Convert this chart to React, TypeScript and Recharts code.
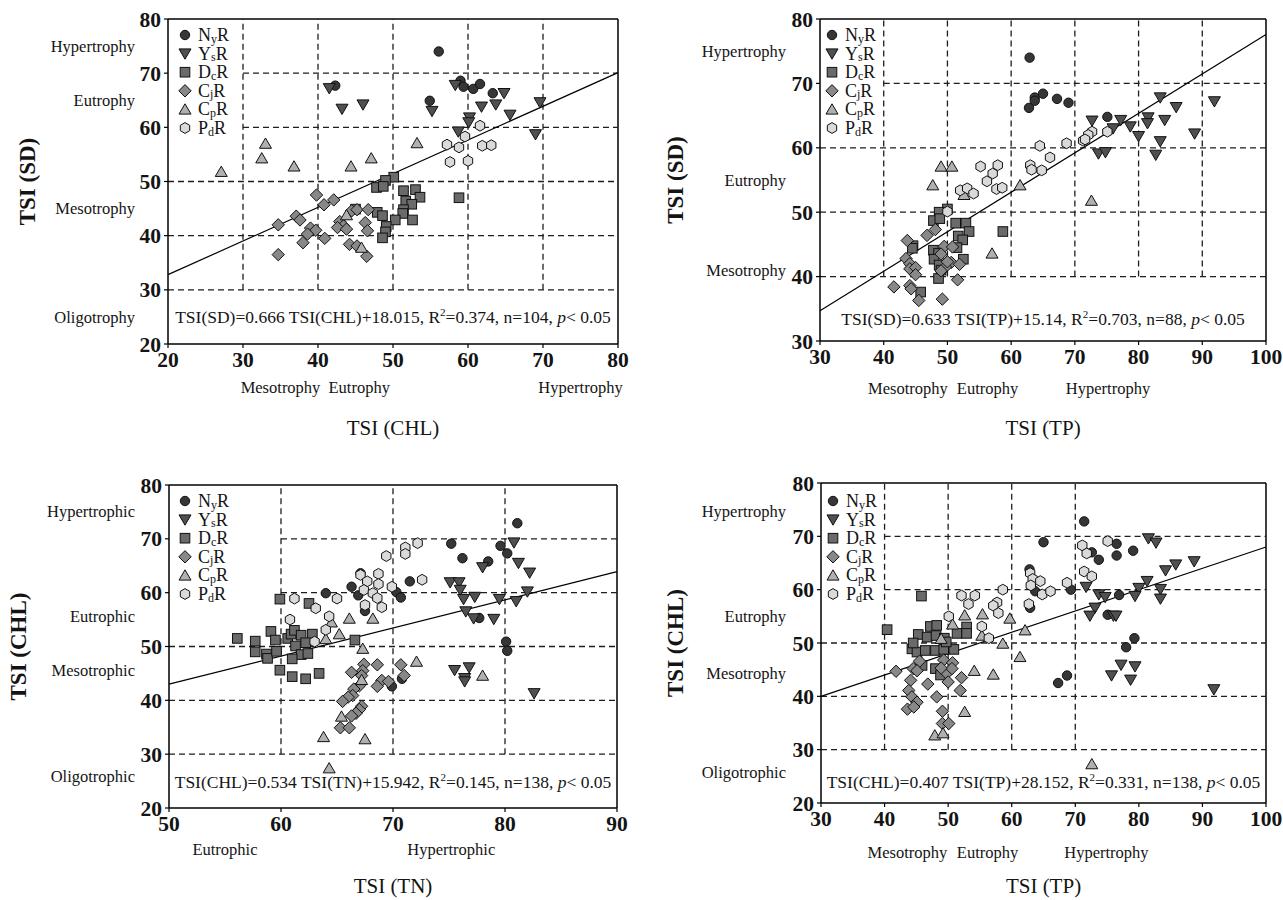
import React from "react";
import { ScatterChart, Scatter, XAxis, YAxis, ReferenceLine, Legend } from "recharts";

const FONT = "'Liberation Serif', 'DejaVu Serif', serif";
const INK = "#141414";

type Pt = [number, number];

// ---- Panel A: TSI(SD) vs TSI(CHL)
const sdChlNyR: Pt[] = [[56.1, 74.0], [42.3, 67.7], [54.9, 64.9], [59.0, 68.6], [59.4, 67.5], [60.7, 67.1], [61.6, 68.0], [63.3, 66.3]];
const sdChlYsR: Pt[] = [[41.5, 67.2], [43.2, 63.4], [46.0, 64.2], [55.2, 63.0], [58.3, 67.8], [58.7, 59.2], [60.2, 61.8], [60.1, 60.9], [61.8, 63.8], [63.7, 64.2], [64.8, 66.3], [65.6, 62.3], [69.0, 58.7], [69.6, 64.6]];
const sdChlDcR: Pt[] = [[50.1, 50.8], [49.0, 50.2], [47.8, 48.9], [48.7, 49.1], [51.4, 48.3], [53.0, 48.5], [53.6, 47.1], [58.8, 47.0], [51.7, 46.4], [52.5, 45.8], [51.4, 44.8], [51.3, 44.1], [47.9, 44.3], [48.6, 43.7], [50.3, 42.9], [52.6, 42.9], [49.1, 41.7], [49.0, 40.7], [48.6, 39.6], [45.0, 44.9]];
const sdChlCjR: Pt[] = [[39.8, 47.5], [40.8, 45.7], [42.1, 46.6], [37.1, 43.6], [37.6, 42.9], [34.7, 42.0], [39.0, 41.4], [39.7, 41.0], [38.6, 40.3], [38.0, 38.7], [34.7, 36.5], [40.9, 39.5], [42.9, 42.6], [43.4, 41.8], [42.6, 41.5], [44.5, 44.6], [45.2, 44.8], [46.7, 44.8], [46.3, 42.4], [46.6, 40.9], [44.2, 38.4], [45.2, 38.1], [46.5, 36.2], [43.8, 41.2]];
const sdChlCpR: Pt[] = [[27.1, 51.8], [32.5, 54.3], [33.0, 57.0], [36.8, 52.8], [44.4, 52.8], [47.1, 54.3], [53.2, 57.1], [43.8, 43.8], [45.8, 37.8]];
const sdChlPdR: Pt[] = [[61.6, 60.3], [59.6, 58.3], [57.2, 56.8], [58.8, 56.3], [61.9, 56.6], [63.1, 56.7], [57.6, 53.6], [60.0, 53.8]];

// ---- Panel B: TSI(SD) vs TSI(TP)
const sdTpNyR: Pt[] = [[62.9, 74.0], [63.7, 67.8], [63.7, 67.3], [62.8, 66.2], [65.0, 68.4], [67.2, 67.6], [69.0, 67.0], [75.1, 64.8]];
const sdTpYsR: Pt[] = [[72.7, 64.2], [76.0, 63.0], [77.2, 64.3], [78.7, 63.3], [80.0, 61.8], [81.5, 64.7], [81.4, 63.8], [83.4, 67.8], [84.1, 64.3], [85.9, 66.3], [83.4, 61.0], [82.7, 58.9], [88.8, 62.2], [91.9, 67.2], [73.7, 59.1], [74.8, 59.3]];
const sdTpDcR: Pt[] = [[50.0, 50.5], [48.7, 50.0], [47.8, 48.7], [48.8, 49.0], [51.3, 48.3], [52.9, 48.3], [53.4, 47.0], [58.7, 47.0], [51.7, 46.3], [52.4, 45.7], [51.5, 44.5], [44.6, 44.8], [44.5, 44.4], [47.8, 44.1], [48.6, 43.6], [47.9, 42.7], [52.5, 42.7], [48.7, 41.8], [49.0, 41.0], [48.6, 39.7], [45.8, 37.6]];
const sdTpCjR: Pt[] = [[46.8, 46.4], [48.1, 47.3], [43.7, 45.6], [43.5, 42.8], [44.1, 42.0], [44.1, 41.2], [45.0, 41.4], [45.0, 40.3], [41.6, 38.4], [44.1, 38.6], [44.3, 38.1], [45.5, 36.3], [49.2, 36.5], [49.5, 44.7], [49.0, 43.5], [50.6, 42.2], [49.7, 41.5], [49.0, 40.9], [50.0, 42.3], [51.9, 41.9], [51.6, 39.5], [50.8, 44.6]];
const sdTpCpR: Pt[] = [[49.0, 57.1], [50.7, 57.1], [47.7, 54.2], [61.4, 54.2], [52.6, 52.7], [72.6, 51.8], [57.0, 43.6]];
const sdTpPdR: Pt[] = [[75.1, 62.5], [72.7, 62.5], [72.1, 62.0], [71.3, 61.1], [71.6, 61.3], [68.7, 60.7], [66.1, 58.5], [64.5, 60.3], [63.0, 57.3], [63.2, 56.6], [64.8, 56.5], [55.2, 57.1], [57.9, 57.3], [57.1, 56.0], [56.2, 54.8], [57.7, 53.6], [58.6, 53.8], [52.0, 53.4], [53.1, 53.7], [54.1, 52.9], [50.0, 50.1]];

// ---- Panel C: TSI(CHL) vs TSI(TN)
const chlTnNyR: Pt[] = [[81.1, 72.9], [75.2, 69.1], [76.2, 66.4], [78.5, 65.8], [79.6, 68.7], [80.2, 67.3], [80.1, 50.9], [80.2, 49.2], [67.1, 63.6], [66.3, 61.1], [64.0, 59.9], [66.9, 59.5], [67.5, 56.6], [71.5, 62.1], [70.3, 60.1], [70.7, 59.1], [77.7, 55.3], [69.9, 42.6], [70.8, 44.0]];
const chlTnYsR: Pt[] = [[80.8, 69.3], [81.2, 65.5], [82.2, 63.7], [78.0, 64.7], [75.1, 61.9], [75.9, 61.9], [76.0, 60.5], [76.3, 58.8], [77.3, 59.2], [76.5, 56.5], [77.2, 55.2], [79.0, 55.1], [79.5, 58.8], [81.0, 58.4], [82.0, 60.2], [75.5, 45.6], [76.4, 44.1], [76.8, 46.1], [76.4, 43.5], [82.6, 41.3]];
const chlTnDcR: Pt[] = [[56.1, 51.5], [57.7, 51.0], [57.7, 49.0], [58.7, 48.6], [58.8, 47.8], [59.1, 52.8], [59.5, 51.2], [59.6, 49.1], [59.9, 45.6], [60.6, 51.5], [60.9, 52.3], [61.2, 53.0], [61.8, 52.1], [62.8, 52.3], [61.3, 50.1], [62.2, 50.7], [61.8, 48.5], [62.4, 48.7], [61.0, 47.7], [61.0, 44.4], [62.2, 44.0], [63.4, 45.0], [66.6, 51.2], [59.9, 58.8], [62.5, 58.0]];
const chlTnCjR: Pt[] = [[67.4, 46.7], [68.6, 46.6], [67.3, 45.5], [66.3, 45.2], [67.2, 44.6], [70.7, 46.6], [71.0, 44.6], [69.0, 43.7], [69.6, 43.5], [68.6, 42.6], [67.0, 42.7], [66.5, 42.1], [66.4, 40.9], [66.0, 40.6], [65.5, 39.8], [67.2, 38.9], [67.0, 38.3], [66.7, 37.6], [66.3, 37.1], [65.3, 34.9], [66.1, 34.9]];
const chlTnCpR: Pt[] = [[66.1, 55.2], [68.2, 55.2], [65.2, 52.3], [64.5, 54.5], [64.0, 51.4], [67.3, 49.6], [72.1, 47.2], [67.2, 43.8], [65.4, 37.0], [63.8, 33.2], [67.5, 32.8], [64.3, 27.4], [78.0, 44.6]];
const chlTnPdR: Pt[] = [[61.2, 58.9], [63.1, 57.1], [65.0, 58.9], [60.8, 55.0], [64.3, 55.6], [64.0, 53.1], [63.0, 50.9], [69.4, 66.8], [71.1, 68.4], [71.1, 67.2], [72.2, 69.2], [72.6, 62.4], [69.9, 61.1], [67.1, 63.3], [68.7, 63.5], [68.7, 61.6], [67.7, 62.1], [67.4, 60.5], [68.2, 59.9], [68.6, 59.0], [69.0, 57.3], [67.5, 57.7]];

// ---- Panel D: TSI(CHL) vs TSI(TP)
const chlTpNyR: Pt[] = [[71.4, 72.8], [65.0, 68.9], [76.5, 68.6], [79.1, 67.3], [76.5, 66.4], [73.7, 65.6], [72.6, 67.0], [62.8, 63.8], [63.7, 59.7], [62.9, 56.6], [69.3, 60.0], [76.9, 59.0], [75.1, 55.3], [79.3, 50.9], [78.0, 49.2], [68.7, 43.9], [67.3, 42.5]];
const chlTpYsR: Pt[] = [[81.5, 69.6], [82.7, 68.8], [88.7, 65.3], [85.8, 64.7], [84.2, 63.6], [81.3, 61.6], [83.4, 60.1], [83.4, 58.3], [80.0, 60.3], [79.4, 58.8], [73.7, 59.1], [74.7, 58.6], [71.7, 60.5], [73.1, 56.6], [72.3, 55.1], [76.0, 55.1], [76.4, 55.1], [77.2, 45.9], [79.4, 45.6], [75.7, 43.9], [78.7, 43.1], [91.8, 41.3]];
const chlTpDcR: Pt[] = [[40.4, 52.5], [45.8, 58.8], [45.3, 51.6], [47.2, 53.1], [48.2, 53.3], [46.7, 51.1], [48.1, 51.4], [49.4, 50.9], [51.4, 51.8], [52.9, 53.0], [52.9, 51.8], [44.3, 48.9], [45.1, 48.3], [46.4, 48.6], [48.0, 48.6], [49.3, 48.8], [50.9, 48.8], [45.9, 45.8], [48.0, 45.2], [48.8, 44.0], [44.5, 50.0], [49.7, 50.2]];
const chlTpCjR: Pt[] = [[41.8, 44.7], [44.5, 45.2], [45.5, 46.6], [45.1, 44.8], [44.1, 43.0], [43.8, 41.1], [44.3, 39.9], [45.1, 38.9], [43.6, 37.6], [44.6, 38.0], [46.8, 42.3], [48.2, 39.9], [49.1, 37.2], [49.1, 34.9], [50.1, 34.9], [49.3, 46.8], [50.7, 46.3], [49.8, 44.3], [50.6, 45.2], [50.0, 42.7], [52.1, 43.5], [51.9, 41.1], [48.9, 45.3]];
const chlTpCpR: Pt[] = [[52.6, 55.2], [55.4, 55.4], [59.7, 54.6], [50.7, 53.5], [48.9, 50.8], [55.3, 51.4], [62.1, 52.4], [58.6, 49.9], [61.3, 47.4], [54.1, 44.8], [57.1, 44.1], [52.6, 37.1], [47.9, 32.7], [49.2, 33.1], [72.6, 27.3]];
const chlTpPdR: Pt[] = [[75.1, 69.1], [71.1, 68.3], [71.8, 66.8], [71.4, 63.4], [72.6, 62.5], [62.9, 63.1], [63.3, 62.0], [64.5, 61.6], [63.0, 60.8], [64.8, 59.1], [66.1, 59.7], [68.7, 61.3], [62.7, 57.3], [58.6, 60.0], [52.1, 58.9], [54.2, 58.9], [53.2, 57.3], [57.7, 57.6], [57.1, 57.0], [57.9, 55.6], [50.1, 55.0], [55.3, 53.1], [56.4, 50.9]];

// fitted lines as drawn (endpoints at the axis limits)
const sdChlFit: Pt[] = [[20, 32.8], [80, 70.1]];
const sdTpFit: Pt[] = [[30, 34.7], [100, 77.6]];
const chlTnFit: Pt[] = [[50, 43.0], [90, 63.9]];
const chlTpFit: Pt[] = [[30, 40.0], [100, 68.0]];

// series legend
const seriesMain = ["N", "Y", "D", "C", "C", "P"];
const seriesSub = ["y", "s", "c", "j", "p", "d"];
const seriesKind = ["circle", "down", "square", "diamond", "up", "hex"];
const seriesFill = ["#363636", "#505050", "#6a6a6a", "#888888", "#b0b0b0", "#dadada"];

// trophic class labels: [value, text]
const sdChlYLabels: [number, string][] = [[75, "Hypertrophy"], [65, "Eutrophy"], [45, "Mesotrophy"], [25, "Oligotrophy"]];
const sdChlXLabels: [number, string][] = [[35, "Mesotrophy"], [45.5, "Eutrophy"], [75, "Hypertrophy"]];
const sdTpYLabels: [number, string][] = [[75, "Hypertrophy"], [55, "Eutrophy"], [41, "Mesotrophy"]];
const sdTpXLabels: [number, string][] = [[43.8, "Mesotrophy"], [56.3, "Eutrophy"], [75.2, "Hypertrophy"]];
const chlTnYLabels: [number, string][] = [[75.2, "Hypertrophic"], [55.6, "Eutrophic"], [45.7, "Mesotrophic"], [25.9, "Oligotrophic"]];
const chlTnXLabels: [number, string][] = [[55, "Eutrophic"], [75.2, "Hypertrophic"]];
const chlTpYLabels: [number, string][] = [[74.8, "Hypertrophy"], [55.1, "Eutrophy"], [44.4, "Mesotrophy"], [25.8, "Oligotrophic"]];
const chlTpXLabels: [number, string][] = [[43.6, "Mesotrophy"], [56.2, "Eutrophy"], [74.9, "Hypertrophy"]];

// equations: [before superscript, after superscript]
const sdChlEq = ["TSI(SD)=0.666 TSI(CHL)+18.015, R", "=0.374, n=104, "];
const sdTpEq = ["TSI(SD)=0.633 TSI(TP)+15.14, R", "=0.703, n=88, "];
const chlTnEq = ["TSI(CHL)=0.534 TSI(TN)+15.942, R", "=0.145, n=138, "];
const chlTpEq = ["TSI(CHL)=0.407 TSI(TP)+28.152, R", "=0.331, n=138, "];

function Marker({ kind, cx, cy, fill }: { kind: string; cx: number; cy: number; fill: string }) {
  const common = { fill, stroke: "#111", strokeWidth: 1 };
  if (kind === "circle") return <circle cx={cx} cy={cy} r={4.7} {...common} />;
  if (kind === "square") return <rect x={cx - 4.8} y={cy - 4.8} width={9.6} height={9.6} {...common} />;
  if (kind === "down") return <polygon points={`${cx - 6},${cy - 4.7} ${cx + 6},${cy - 4.7} ${cx},${cy + 5.6}`} {...common} />;
  if (kind === "up") return <polygon points={`${cx},${cy - 5.6} ${cx + 6},${cy + 4.7} ${cx - 6},${cy + 4.7}`} {...common} />;
  if (kind === "diamond") return <polygon points={`${cx},${cy - 6.2} ${cx + 6.2},${cy} ${cx},${cy + 6.2} ${cx - 6.2},${cy}`} {...common} />;
  const pts = [0, 1, 2, 3, 4, 5]
    .map((i) => {
      const a = (Math.PI / 3) * i - Math.PI / 2;
      return `${cx + 5.4 * Math.cos(a)},${cy + 5.4 * Math.sin(a)}`;
    })
    .join(" ");
  return <polygon points={pts} {...common} />;
}

function LegendBox() {
  return (
    <svg width={84} height={126} style={{ display: "block", overflow: "visible" }}>
      {seriesMain.map((m, i) => {
        const cy = 10 + i * 18.6;
        return (
          <g key={i}>
            <Marker kind={seriesKind[i]} cx={8} cy={cy} fill={seriesFill[i]} />
            <text x={21} y={cy + 6} fontSize={18} fontFamily={FONT} fill={INK}>
              {m}
              <tspan fontSize={12} dy={1.5}>{seriesSub[i]}</tspan>
              <tspan dy={-1.5}>R</tspan>
            </text>
          </g>
        );
      })}
    </svg>
  );
}

function Equation(props: any) {
  const { viewBox, parts } = props;
  const x = viewBox.x + viewBox.width / 2;
  const y = viewBox.y;
  return (
    <text x={x} y={y} dy={6} textAnchor="middle" fontSize={17.5} fontFamily={FONT} fill={INK}>
      {parts[0]}
      <tspan fontSize={11} dy={-7}>2</tspan>
      <tspan dy={7}>{parts[1]}</tspan>
      <tspan fontStyle="italic">p</tspan>
      {"< 0.05"}
    </text>
  );
}

type PanelCfg = {
  width: number;
  height: number;
  margin: { top: number; right: number; bottom: number; left: number };
  yWidth: number;
  xHeight: number;
  xDomain: [number, number];
  yDomain: [number, number];
  xTicks: number[];
  yTicks: number[];
  series: Pt[][];
  vLines: number[];
  vFrom: number;
  hFull: number[];
  hPart: number[];
  hPartFrom: number;
  fit: Pt[];
  yLabels: [number, string][];
  xLabels: [number, string][];
  yLabelOffset: number;
  xLabelOffset: number;
  eq: string[];
  eqY: number;
  xTitle: string;
  yTitle: string;
  xTitleOffset: number;
  yTitleOffset: number;
  legendPos: { left: number; top: number };
};

const range = (a: number, b: number) => {
  const out: number[] = [];
  for (let v = a; v <= b; v += 10) out.push(v);
  return out;
};

const dash = { stroke: "#1e1e1e", strokeWidth: 1.3, strokeDasharray: "6 4" };
const tickStyle = { fill: INK, fontSize: 21.5, fontWeight: 700, fontFamily: FONT };

function Panel({ cfg }: { cfg: PanelCfg }) {
  const [x0, x1] = cfg.xDomain;
  const [, y1] = cfg.yDomain;
  return (
    <ScatterChart width={cfg.width} height={cfg.height} margin={cfg.margin}>
      <XAxis
        type="number"
        dataKey="x"
        domain={cfg.xDomain}
        ticks={cfg.xTicks}
        height={cfg.xHeight}
        tick={tickStyle}
        tickSize={4}
        tickMargin={4}
        axisLine={{ stroke: "#000", strokeWidth: 1.5 }}
        tickLine={{ stroke: "#000", strokeWidth: 1.2 }}
        label={{ value: cfg.xTitle, position: "insideBottom", offset: cfg.xTitleOffset, fill: INK, fontSize: 21, fontFamily: FONT }}
      />
      <YAxis
        type="number"
        dataKey="y"
        domain={cfg.yDomain}
        ticks={cfg.yTicks}
        width={cfg.yWidth}
        tick={tickStyle}
        tickSize={4}
        tickMargin={3}
        axisLine={{ stroke: "#000", strokeWidth: 1.5 }}
        tickLine={{ stroke: "#000", strokeWidth: 1.2 }}
        label={{
          value: cfg.yTitle,
          angle: -90,
          position: "insideLeft",
          offset: cfg.yTitleOffset,
          style: { textAnchor: "middle" },
          fill: INK,
          fontSize: 23,
          fontWeight: 700,
          fontFamily: FONT,
        }}
      />
      {/* frame */}
      <ReferenceLine y={y1} stroke="#000" strokeWidth={1.5} />
      <ReferenceLine x={x1} stroke="#000" strokeWidth={1.5} />
      {/* dashed class boundaries */}
      {cfg.vLines.map((v) => (
        <ReferenceLine key={"v" + v} segment={[{ x: v, y: cfg.vFrom }, { x: v, y: y1 }]} {...dash} />
      ))}
      {cfg.hFull.map((v) => (
        <ReferenceLine key={"h" + v} segment={[{ x: x0, y: v }, { x: x1, y: v }]} {...dash} />
      ))}
      {cfg.hPart.map((v) => (
        <ReferenceLine key={"hp" + v} segment={[{ x: cfg.hPartFrom, y: v }, { x: x1, y: v }]} {...dash} />
      ))}
      {/* trophic class names */}
      {cfg.yLabels.map(([v, t]) => (
        <ReferenceLine
          key={"yl" + t}
          y={v}
          stroke="none"
          label={{ value: t, position: "left", offset: cfg.yLabelOffset, fill: INK, fontSize: 16.5, fontFamily: FONT }}
        />
      ))}
      {cfg.xLabels.map(([v, t]) => (
        <ReferenceLine
          key={"xl" + t}
          x={v}
          stroke="none"
          label={{ value: t, position: "bottom", offset: cfg.xLabelOffset, fill: INK, fontSize: 16.5, fontFamily: FONT }}
        />
      ))}
      <ReferenceLine y={cfg.eqY} stroke="none" label={(p: any) => <Equation {...p} parts={cfg.eq} />} />
      <ReferenceLine
        segment={[{ x: cfg.fit[0][0], y: cfg.fit[0][1] }, { x: cfg.fit[1][0], y: cfg.fit[1][1] }]}
        stroke="#000"
        strokeWidth={1.2}
      />
      {cfg.series.map((pts, i) => (
        <Scatter
          key={i}
          data={pts.map(([x, y]) => ({ x, y }))}
          isAnimationActive={false}
          shape={(p: any) => <Marker kind={seriesKind[i]} cx={p.cx} cy={p.cy} fill={seriesFill[i]} />}
        />
      ))}
      <Legend
        layout="horizontal"
        verticalAlign="middle"
        align="center"
        wrapperStyle={{ left: cfg.legendPos.left, top: cfg.legendPos.top, width: 84, height: 126, overflow: "visible" }}
        content={() => <LegendBox />}
      />
    </ScatterChart>
  );
}

const panelA: PanelCfg = {
  width: 640, height: 450,
  margin: { top: 19, right: 22, bottom: 0, left: 0 },
  yWidth: 168, xHeight: 106,
  xDomain: [20, 80], yDomain: [20, 80], xTicks: range(20, 80), yTicks: range(20, 80),
  series: [sdChlNyR, sdChlYsR, sdChlDcR, sdChlCjR, sdChlCpR, sdChlPdR],
  vLines: [30, 40, 50, 60, 70], vFrom: 30, hFull: [30, 40, 50], hPart: [60, 70], hPartFrom: 30,
  fit: sdChlFit, yLabels: sdChlYLabels, xLabels: sdChlXLabels, yLabelOffset: 33, xLabelOffset: 37,
  eq: sdChlEq, eqY: 25, xTitle: "TSI (CHL)", yTitle: "TSI (SD)", xTitleOffset: 15, yTitleOffset: 27,
  legendPos: { left: 177, top: 25 },
};

const panelB: PanelCfg = {
  width: 643, height: 450,
  margin: { top: 19, right: 17, bottom: 0, left: 0 },
  yWidth: 180, xHeight: 109,
  xDomain: [30, 100], yDomain: [30, 80], xTicks: range(30, 100), yTicks: range(30, 80),
  series: [sdTpNyR, sdTpYsR, sdTpDcR, sdTpCjR, sdTpCpR, sdTpPdR],
  vLines: [40, 50, 60, 70, 80, 90], vFrom: 40, hFull: [40, 50, 60], hPart: [70], hPartFrom: 40,
  fit: sdTpFit, yLabels: sdTpYLabels, xLabels: sdTpXLabels, yLabelOffset: 34, xLabelOffset: 41,
  eq: sdTpEq, eqY: 33.4, xTitle: "TSI (TP)", yTitle: "TSI (SD)", xTitleOffset: 15, yTitleOffset: 35,
  legendPos: { left: 184, top: 25 },
};

const panelC: PanelCfg = {
  width: 640, height: 450,
  margin: { top: 35, right: 23, bottom: 0, left: 0 },
  yWidth: 169, xHeight: 92,
  xDomain: [50, 90], yDomain: [20, 80], xTicks: range(50, 90), yTicks: range(20, 80),
  series: [chlTnNyR, chlTnYsR, chlTnDcR, chlTnCjR, chlTnCpR, chlTnPdR],
  vLines: [60, 70, 80], vFrom: 30, hFull: [30, 40, 50], hPart: [60, 70], hPartFrom: 60,
  fit: chlTnFit, yLabels: chlTnYLabels, xLabels: chlTnXLabels, yLabelOffset: 34, xLabelOffset: 35,
  eq: chlTnEq, eqY: 24.8, xTitle: "TSI (TN)", yTitle: "TSI (CHL)", xTitleOffset: 7, yTitleOffset: 18,
  legendPos: { left: 177, top: 41 },
};

const panelD: PanelCfg = {
  width: 643, height: 450,
  margin: { top: 33, right: 17, bottom: 0, left: 0 },
  yWidth: 181, xHeight: 97,
  xDomain: [30, 100], yDomain: [20, 80], xTicks: range(30, 100), yTicks: range(20, 80),
  series: [chlTpNyR, chlTpYsR, chlTpDcR, chlTpCjR, chlTpCpR, chlTpPdR],
  vLines: [40, 50, 60, 70], vFrom: 30, hFull: [30, 40, 50], hPart: [60, 70], hPartFrom: 40,
  fit: chlTpFit, yLabels: chlTpYLabels, xLabels: chlTpXLabels, yLabelOffset: 35, xLabelOffset: 43,
  eq: chlTpEq, eqY: 23.9, xTitle: "TSI (TP)", yTitle: "TSI (CHL)", xTitleOffset: 7, yTitleOffset: 35,
  legendPos: { left: 185, top: 41 },
};

export default function App() {
  return (
    <div style={{ position: "relative", width: 1283, height: 900, background: "#fff", fontFamily: FONT }}>
      <style>{"body{margin:0}"}</style>
      <div style={{ position: "absolute", left: 0, top: 0 }}>
        <Panel cfg={panelA} />
      </div>
      <div style={{ position: "absolute", left: 640, top: 0 }}>
        <Panel cfg={panelB} />
      </div>
      <div style={{ position: "absolute", left: 0, top: 450 }}>
        <Panel cfg={panelC} />
      </div>
      <div style={{ position: "absolute", left: 640, top: 450 }}>
        <Panel cfg={panelD} />
      </div>
    </div>
  );
}
